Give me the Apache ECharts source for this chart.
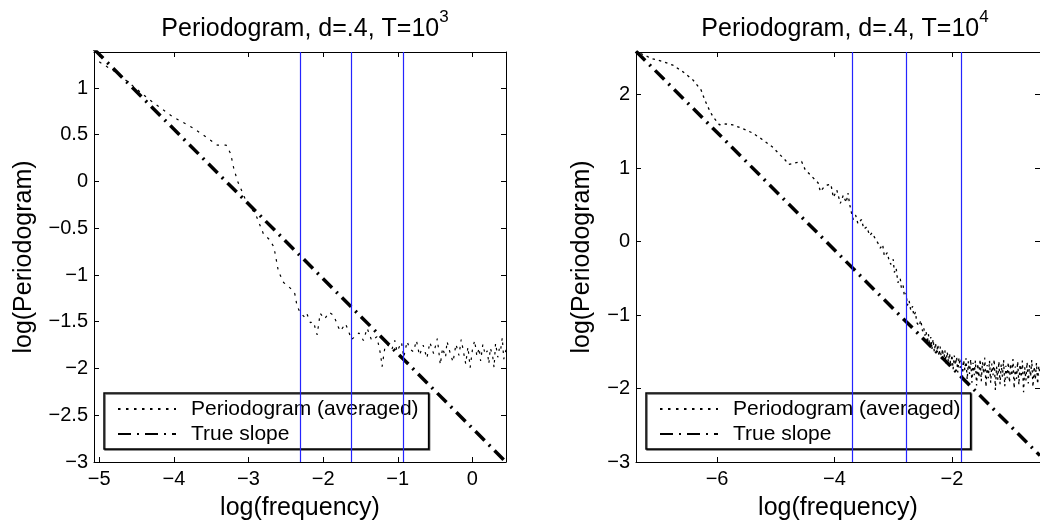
<!DOCTYPE html>
<html>
<head>
<meta charset="utf-8">
<script src="https://cdn.jsdelivr.net/npm/echarts@6/dist/echarts.min.js"></script>
<style>
  html, body { margin: 0; padding: 0; background: #fff; }
  #main { width: 1040px; height: 526px; }
</style>
</head>
<body>
<div id="main"></div>
<script>
var FONT = '"Liberation Sans", Arial, Helvetica, sans-serif';

/* axis ranges and ticks */
var leftXRange = [-5.07, 0.45];
var leftYRange = [-3, 1.385];
var rightXRange = [-7.38, -0.5];
var rightYRange = [-3, 2.58];
var leftXTicks = [-5, -4, -3, -2, -1, 0];
var leftYTicks = [-3, -2.5, -2, -1.5, -1, -0.5, 0, 0.5, 1];
var rightXTicks = [-6, -4, -2];
var rightYTicks = [-3, -2, -1, 0, 1, 2];

/* blue cut-off lines (log frequency) */
var cutsLeft = [-2.31, -1.62, -0.92];
var cutsRight = [-3.69, -2.77, -1.84];

/* true slope, end points */
var slopeLeft = [[-5.07, 1.416], [0.45, -3.0]];
var slopeRight = [[-7.38, 2.59], [-0.5, -2.913]];

/* averaged periodogram, T=10^3 */
var periodLeft = [
  [-5.00, 1.28], [-4.88, 1.22], [-4.78, 1.17], [-4.67, 1.10], [-4.50, 0.99],
  [-4.32, 0.87], [-4.15, 0.77], [-4.01, 0.69], [-3.85, 0.62], [-3.74, 0.57],
  [-3.54, 0.46], [-3.42, 0.39], [-3.30, 0.39], [-3.24, 0.30], [-3.20, 0.15],
  [-3.15, 0.01], [-3.08, -0.12], [-3.02, -0.23], [-2.95, -0.30], [-2.89, -0.38],
  [-2.80, -0.56], [-2.72, -0.62], [-2.66, -0.70], [-2.62, -0.87], [-2.60, -0.96],
  [-2.53, -1.08], [-2.44, -1.14], [-2.38, -1.20], [-2.35, -1.33], [-2.31, -1.40],
  [-2.25, -1.45], [-2.22, -1.41], [-2.17, -1.51], [-2.13, -1.50], [-2.08, -1.64],
  [-2.04, -1.41], [-1.98, -1.47], [-1.92, -1.40], [-1.86, -1.43], [-1.80, -1.55],
  [-1.77, -1.60], [-1.70, -1.52], [-1.66, -1.60], [-1.62, -1.69], [-1.59, -1.67],
  [-1.52, -1.62], [-1.46, -1.70], [-1.41, -1.57], [-1.35, -1.70], [-1.28, -1.66],
  [-1.23, -1.85], [-1.21, -1.98], [-1.17, -1.76], [-1.14, -1.74], [-1.08, -1.80],
  [-1.04, -1.70], [-1.01, -1.82], [-0.95, -1.72], [-0.92, -1.88], [-0.875, -1.71],
  [-0.84, -1.79], [-0.79, -1.82], [-0.75, -1.70], [-0.71, -1.86], [-0.66, -1.75],
  [-0.61, -1.89], [-0.57, -1.72], [-0.52, -1.84], [-0.47, -1.68], [-0.43, -1.96],
  [-0.40, -1.78], [-0.36, -1.88], [-0.34, -1.71], [-0.30, -1.83], [-0.26, -1.93],
  [-0.22, -1.74], [-0.18, -1.86], [-0.15, -1.69], [-0.12, -1.82], [-0.09, -1.95],
  [-0.06, -1.77], [-0.03, -1.99], [0.00, -1.80], [0.03, -1.70], [0.06, -1.87],
  [0.09, -1.78], [0.11, -1.92], [0.14, -1.74], [0.17, -1.85], [0.20, -1.81],
  [0.22, -1.95], [0.24, -1.78], [0.27, -1.86], [0.29, -1.99], [0.31, -1.73],
  [0.34, -1.88], [0.36, -1.79], [0.375, -1.82], [0.40, -1.67], [0.42, -1.90],
  [0.45, -1.80]
];

/* averaged periodogram, T=10^4 */
var periodRight = [
  [-7.30, 2.56], [-7.11, 2.49], [-6.92, 2.45], [-6.75, 2.40], [-6.58, 2.31],
  [-6.41, 2.20], [-6.27, 2.06], [-6.21, 1.93], [-6.13, 1.79], [-6.07, 1.70],
  [-5.96, 1.59], [-5.85, 1.60], [-5.74, 1.59], [-5.57, 1.54], [-5.40, 1.48],
  [-5.23, 1.39], [-5.06, 1.29], [-4.95, 1.20], [-4.84, 1.11], [-4.78, 1.05],
  [-4.67, 1.07], [-4.56, 1.09], [-4.50, 0.98], [-4.39, 0.89], [-4.28, 0.80],
  [-4.24, 0.68], [-4.18, 0.74], [-4.12, 0.77], [-4.06, 0.78], [-4.02, 0.60],
  [-3.96, 0.70], [-3.90, 0.52], [-3.85, 0.63], [-3.80, 0.53], [-3.77, 0.66],
  [-3.74, 0.50], [-3.71, 0.39], [-3.68, 0.30], [-3.64, 0.36], [-3.60, 0.24],
  [-3.54, 0.30], [-3.50, 0.17], [-3.45, 0.20], [-3.40, 0.08], [-3.36, 0.12],
  [-3.30, 0.03], [-3.26, -0.02], [-3.22, -0.09], [-3.18, -0.04], [-3.15, -0.20],
  [-3.10, -0.15], [-3.07, -0.26], [-3.04, -0.31], [-3.00, -0.24], [-2.98, -0.42],
  [-2.95, -0.36], [-2.92, -0.56], [-2.88, -0.50], [-2.86, -0.64], [-2.83, -0.60],
  [-2.81, -0.74], [-2.78, -0.70], [-2.76, -0.87], [-2.73, -0.80], [-2.70, -0.94],
  [-2.67, -0.88], [-2.65, -1.01], [-2.62, -0.96], [-2.60, -1.10], [-2.56, -1.15],
  [-2.53, -1.07], [-2.50, -1.22], [-2.48, -1.17], [-2.46, -1.28],
  [-2.44, -1.22], [-2.42, -1.38], [-2.40, -1.26], [-2.38, -1.42], [-2.36, -1.30],
  [-2.34, -1.46], [-2.32, -1.33], [-2.30, -1.50], [-2.28, -1.38], [-2.26, -1.52],
  [-2.24, -1.40], [-2.22, -1.56], [-2.20, -1.43], [-2.18, -1.60], [-2.16, -1.46],
  [-2.14, -1.62], [-2.12, -1.48], [-2.10, -1.66], [-2.08, -1.50], [-2.06, -1.64],
  [-2.04, -1.52], [-2.02, -1.70], [-2.00, -1.54], [-1.98, -1.74], [-1.96, -1.55],
  [-1.94, -1.68], [-1.92, -1.57], [-1.90, -1.78], [-1.88, -1.58], [-1.86, -1.72],
  [-1.84, -1.60], [-1.82, -1.84], [-1.80, -1.61], [-1.78, -1.75], [-1.76, -1.59],
  [-1.74, -1.88], [-1.72, -1.63], [-1.70, -1.80], [-1.68, -1.60], [-1.66, -1.92],
  [-1.64, -1.65], [-1.62, -1.82], [-1.60, -1.62], [-1.58, -1.96], [-1.56, -1.66],
  [-1.54, -1.85], [-1.52, -1.60], [-1.50, -1.90], [-1.48, -1.64], [-1.46, -1.80],
  [-1.44, -1.58], [-1.42, -1.98], [-1.40, -1.68], [-1.38, -1.86], [-1.36, -1.62],
  [-1.34, -1.92], [-1.32, -1.66], [-1.30, -1.82], [-1.28, -1.60], [-1.26, -2.02],
  [-1.24, -1.70], [-1.22, -1.88], [-1.20, -1.63], [-1.18, -1.94], [-1.16, -1.67],
  [-1.14, -1.84], [-1.12, -1.61], [-1.10, -1.97], [-1.08, -1.69], [-1.06, -1.86],
  [-1.04, -1.64], [-1.02, -1.92], [-1.00, -1.66], [-0.98, -1.83], [-0.96, -1.60],
  [-0.94, -2.00], [-0.92, -1.70], [-0.90, -1.87], [-0.88, -1.63], [-0.86, -1.95],
  [-0.84, -1.67], [-0.82, -1.85], [-0.80, -1.62], [-0.78, -2.05], [-0.76, -1.71],
  [-0.74, -1.89], [-0.72, -1.64], [-0.70, -1.93], [-0.68, -1.68], [-0.66, -1.84],
  [-0.64, -1.61], [-0.62, -1.98], [-0.60, -1.70], [-0.58, -1.88], [-0.56, -1.65],
  [-0.54, -1.94], [-0.52, -1.69], [-0.50, -1.82]
];

var PER = 'Periodogram (averaged)';
var SLOPE = 'True slope';

function minus(v) { return String(v).replace('-', '\u2212'); }

// bottom / left axes carry labels, top / right only ticks (box)
function xAxes(range, ticks, gridIndex) {
  var base = {
    type: 'value', gridIndex: gridIndex, min: range[0], max: range[1],
    splitLine: { show: false },
    axisLine: { onZero: false, lineStyle: { color: '#000', width: 1 } },
    axisTick: { inside: true, length: 5, customValues: ticks, lineStyle: { color: '#000' } }
  };
  var bottom = Object.assign({}, base, {
    position: 'bottom',
    name: 'log(frequency)', nameLocation: 'middle', nameGap: 34,
    nameTextStyle: { fontSize: 25, color: '#000', fontFamily: FONT },
    axisLabel: { customValues: ticks, formatter: minus, fontSize: 20, color: '#000', fontFamily: FONT, margin: 7 }
  });
  var top = Object.assign({}, base, { position: 'top', axisLabel: { show: false } });
  return [bottom, top];
}
function yAxes(range, ticks, gridIndex, gap) {
  var base = {
    type: 'value', gridIndex: gridIndex, min: range[0], max: range[1],
    splitLine: { show: false },
    axisLine: { onZero: false, lineStyle: { color: '#000', width: 1 } },
    axisTick: { inside: true, length: 5, customValues: ticks, lineStyle: { color: '#000' } }
  };
  var left = Object.assign({}, base, {
    position: 'left',
    name: 'log(Periodogram)', nameLocation: 'middle', nameGap: gap,
    nameTextStyle: { fontSize: 25, color: '#000', fontFamily: FONT },
    axisLabel: { customValues: ticks, formatter: minus, fontSize: 20, color: '#000', fontFamily: FONT, margin: 6 }
  });
  var right = Object.assign({}, base, { position: 'right', axisLabel: { show: false } });
  return [left, right];
}

function cutLines(cuts) {
  return {
    silent: true, symbol: ['none', 'none'],
    label: { show: false },
    lineStyle: { color: '#2424ff', type: 'solid', width: 1.2 },
    data: cuts.map(function (c) { return { xAxis: c }; })
  };
}

function legendFor(left) {
  return {
    orient: 'vertical', left: left, top: 393,
    data: [PER, SLOPE],
    itemWidth: 58, itemHeight: 12, itemGap: 3,
    padding: [5, 10, 4, 13],
    borderColor: '#000', borderWidth: 1.5, backgroundColor: '#fff',
    shadowColor: 'rgba(0,0,0,0.6)', shadowOffsetX: 1, shadowOffsetY: 1,
    selectedMode: false,
    itemStyle: { opacity: 0 },
    textStyle: { fontSize: 21, color: '#000', fontFamily: FONT, lineHeight: 22, padding: [0, 0, 0, 10] }
  };
}

function titleFor(x, exp) {
  return {
    text: '{m|Periodogram, d=.4, T=10}{s|' + exp + '}',
    left: x, top: 4, textAlign: 'center',
    textStyle: {
      rich: {
        m: { fontSize: 25, fontWeight: 'normal', color: '#000', fontFamily: FONT, verticalAlign: 'bottom' },
        s: { fontSize: 17, fontWeight: 'normal', color: '#000', fontFamily: FONT, verticalAlign: 'top', padding: [0, 0, 16, 0] }
      }
    }
  };
}

var dottedLeft = { color: '#000', width: 1.2, type: [2.5, 5.5] };
var dottedRight = { color: '#000', width: 1.3, type: [2.5, 4] };
var dashDot = { color: '#000', width: 3.5, type: [13, 6, 2, 6] };

var myChart = echarts.init(document.getElementById('main'));
var option = {
  animation: false,
  backgroundColor: '#fff',
  title: [titleFor(300, '3'), titleFor(840, '4')],
  legend: [legendFor(104), legendFor(646)],
  grid: [
    { left: 94, top: 52, width: 412, height: 411 },
    { left: 636, top: 52, width: 408, height: 411 }
  ],
  xAxis: xAxes(leftXRange, leftXTicks, 0).concat(xAxes(rightXRange, rightXTicks, 1)),
  yAxis: yAxes(leftYRange, leftYTicks, 0, 57).concat(yAxes(rightYRange, rightYTicks, 1, 41)),
  series: [
    {
      name: PER, type: 'line', xAxisIndex: 0, yAxisIndex: 0,
      data: periodLeft, symbol: 'none', lineStyle: dottedLeft, itemStyle: { color: '#000' },
      markLine: cutLines(cutsLeft)
    },
    {
      name: SLOPE, type: 'line', xAxisIndex: 0, yAxisIndex: 0,
      data: slopeLeft, symbol: 'none', lineStyle: dashDot, itemStyle: { color: '#000' }
    },
    {
      name: PER, type: 'line', xAxisIndex: 2, yAxisIndex: 2,
      data: periodRight, symbol: 'none', lineStyle: dottedRight, itemStyle: { color: '#000' },
      markLine: cutLines(cutsRight)
    },
    {
      name: SLOPE, type: 'line', xAxisIndex: 2, yAxisIndex: 2,
      data: slopeRight, symbol: 'none', lineStyle: dashDot, itemStyle: { color: '#000' }
    }
  ]
};
myChart.setOption(option);
</script>
</body>
</html>
